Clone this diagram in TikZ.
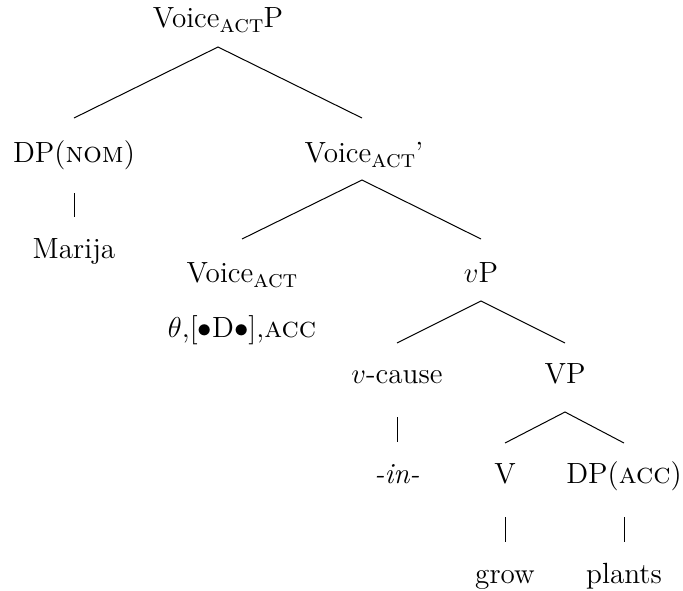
\documentclass[tikz,border=0pt]{standalone}
\newcommand{\actsub}{\raisebox{-2.5pt}{\fontsize{12.4}{14}\selectfont\textsc{act}}}
\begin{document}
\begin{tikzpicture}[x=0.5pt,y=-0.5pt,
  lab/.style={anchor=base,inner sep=0pt,font=\fontsize{14.6}{17.5}\selectfont},
  edge/.style={line width=0.5pt,black}]
\useasboundingbox (0,0) rectangle (683,590);
\node[lab] (top)    at (218,27)  {Voice\actsub P};
\node[lab] (dpnom)  at (74,162)  {DP(\textsc{nom})};
\node[lab] (vbar)   at (364,162) {Voice\actsub'};
\node[lab] (marija) at (74,258)  {Marija};
\node[lab] (voice)  at (242,282) {Voice\actsub};
\node[lab] (vp)     at (481,282) {$v$P};
\node[lab] (feat)   at (242,337) {$\theta$,[$\bullet$D$\bullet$],\textsc{acc}};
\node[lab] (vcause) at (397,383) {$v$-cause};
\node[lab] (VP)     at (565,383) {VP};
\node[lab] (in)     at (397,483) {\textit{-in-}};
\node[lab] (V)      at (505,483) {V};
\node[lab] (dpacc)  at (624,483) {DP(\textsc{acc})};
\node[lab] (grow)   at (505,583) {grow};
\node[lab] (plants) at (624,583) {plants};
\coordinate (vbartop) at (362,162);
\draw[edge] ([yshift=22pt]dpnom.base) -- ([yshift=-10pt]top.base) -- ([yshift=22pt]vbartop);
\draw[edge] ([yshift=21.5pt]voice.base) -- ([yshift=-9pt]vbartop) -- ([yshift=21.5pt]vp.base);
\draw[edge] ([yshift=20pt]vcause.base) -- ([yshift=-9.5pt]vp.base) -- ([yshift=20pt]VP.base);
\draw[edge] ([yshift=20pt]V.base) -- ([yshift=-14.5pt]VP.base) -- ([yshift=20pt]dpacc.base);
\draw[edge] ([yshift=-15.5pt]dpnom.base) -- ([yshift=20.5pt]marija.base);
\draw[edge] ([yshift=-17pt]vcause.base) -- ([yshift=20.5pt]in.base);
\draw[edge] ([yshift=-17pt]V.base) -- ([yshift=20.5pt]grow.base);
\draw[edge] ([yshift=-17pt]dpacc.base) -- ([yshift=20.5pt]plants.base);
\end{tikzpicture}
\end{document}
